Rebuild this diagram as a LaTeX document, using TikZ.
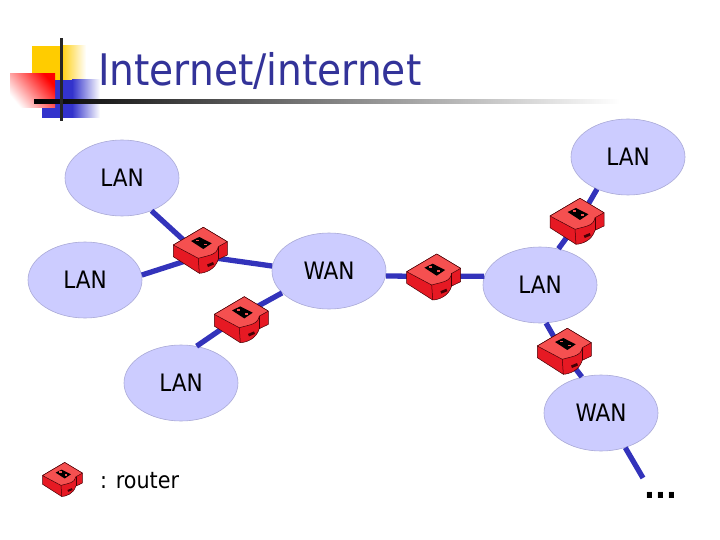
\documentclass[tikz,border=0pt]{standalone}
\usepackage{fontspec}
\setmainfont{DejaVu Sans Condensed}
\usetikzlibrary{shapes.geometric}
\tikzset{
	net/.style={ellipse,draw=netedge,fill=netfill,line width=0.6pt,minimum width=114pt,minimum height=76pt,inner sep=0pt,font=\fontsize{24}{28}\selectfont},
	link/.style={draw=linkcolor,line width=5.3pt},
	router/.pic={
		%%% Cuerpo
		\fill[routerfill,draw=routerdark,line width=0.5pt,line join=round] (-27.7,-6) -- (2.3,-23.7) -- (26.3,-9.3) -- (26.3,4) -- (17.3,8.3) .. controls (14,19) and (4,22) .. (-1.7,22.3) -- (-27.7,5.7) -- cycle;
		%%% Cara superior
		\fill[routertop,draw=routerdark,line width=0.5pt,line join=round] (-27.7,-6) -- (2.3,-23.7) -- (26.3,-9.3) -- (17.3,-4.3) .. controls (15.7,4) and (9,4) .. (-2.7,7.3) -- cycle;
		\draw[routerdark,line width=0.5pt] (-2.7,7.3) -- (-1.7,22.3);
		\draw[routerdark,line width=0.5pt] (17.3,-4.3) -- (17.3,8.3);
		%%% Placa y ranura
		\fill[black] (-10,-10) -- (-1.7,-14) -- (10.7,-7.7) -- (2.3,-2) -- cycle;
		\fill[routertop] (-5,-11.5) rectangle ++(3,1.6);
		\fill[routertop] (3,-7.5) rectangle ++(3,1.6);
		\fill[routerdark] (6,13.5) -- (12,11) -- (13,13.5) -- (7,16) -- cycle;
	},
}
\begin{document}
\begin{tikzpicture}[x=1pt,y=-1pt]
	%%% Colores
	\definecolor{titlecolor}{RGB}{51,51,153}
	\definecolor{netfill}{RGB}{204,204,255}
	\definecolor{netedge}{RGB}{170,170,215}
	\definecolor{linkcolor}{RGB}{51,51,187}
	\definecolor{routerfill}{RGB}{230,25,35}
	\definecolor{routertop}{RGB}{245,80,80}
	\definecolor{routerdark}{RGB}{70,0,5}
	\definecolor{decoyellow}{RGB}{255,204,0}
	\definecolor{decoblue}{RGB}{51,51,204}
	\useasboundingbox (0,0) rectangle (720,540);

	%%% Decoracion del titulo
	\fill[decoyellow] (32,46) rectangle (60,95);
	\shade[left color=decoyellow,right color=white] (60,46) rectangle (86,95);
	\fill[decoblue] (42,80) rectangle (72,118);
	\shade[left color=decoblue,right color=white] (72,80) rectangle (100,118);
	\shade[top color=red,bottom color=white,shading angle=-50] (10,74) rectangle (55,108);
	\shade[left color=black,right color=white] (34,100) rectangle (620,104);
	\fill[black!85] (59.5,38) rectangle (62.5,121);
	\node[anchor=base west,inner sep=0pt,text=titlecolor,font=\fontsize{43.5}{50}\selectfont] (title) at (98,86) {Internet/internet};

	%%% Redes
	\node[net] (lana) at (122,178) {LAN};
	\node[net] (lanb) at (628,157) {LAN};
	\node[net] (lanc) at (85,280) {LAN};
	\node[net] (wana) at (329,271) {WAN};
	\node[net] (land) at (540,285) {LAN};
	\node[net] (lane) at (181,383) {LAN};
	\node[net] (wanb) at (601,413) {WAN};

	%%% Routers y puntos de enlace
	\coordinate (ra) at (201,251);
	\coordinate (rb) at (242,320.4);
	\coordinate (rc) at (434.4,277.7);
	\coordinate (rd) at (577.7,222);
	\coordinate (re) at (565,352);
	\coordinate (rf) at (63,480);
	\coordinate (hubra) at (201,256);
	\coordinate (hubrb) at (242,315);
	\coordinate (hubrc) at (434,276.5);
	\coordinate (hubrd) at (578,222);
	\coordinate (hubre) at (562,351);
	\coordinate (wanend) at (643,478);

	%%% Enlaces
	\foreach \a/\b in {lana.-48/hubra,lanc.5/hubra,wana.175/hubra,wana.205/hubrb,lane.67/hubrb,wana.-5/hubrc,land.171/hubrc,lanb.226/hubrd,land.63/hubrd,land.-81/hubre,wanb.118/hubre,wanb.-55/wanend} {
		\draw[link] (\a) -- (\b);
	}
	\foreach \r in {ra,rb,rc,rd,re} {
		\pic at (\r) {router};
	}
	\pic[scale=0.74] at (rf) {router};

	%%% Leyenda
	\node[anchor=base west,inner sep=0pt,font=\fontsize{23}{28}\selectfont] (legend) at (100,488) {: router};
	\node[anchor=base,inner sep=0pt,font=\fontsize{32}{36}\selectfont\bfseries] (more) at (661,498) {...};
\end{tikzpicture}
\end{document}
